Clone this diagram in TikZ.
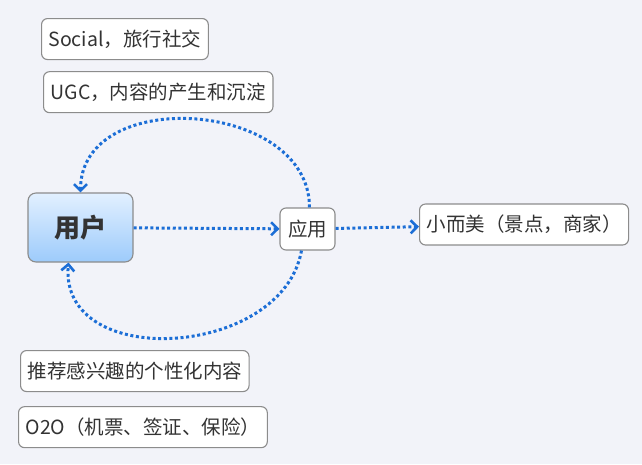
\documentclass[tikz,border=0pt]{standalone}
\usepackage{fontspec}
\setmainfont{Noto Sans CJK SC}
\usetikzlibrary{arrows.meta,positioning}
\definecolor{bg}{HTML}{F2F3F9}
\definecolor{edge}{HTML}{8C8C8C}
\definecolor{ink}{HTML}{333333}
\definecolor{flow}{HTML}{1C6ED6}
\definecolor{usertop}{HTML}{E2F0FF}
\definecolor{userbot}{HTML}{9DCBFB}
\tikzset{
  box/.style={
    draw=edge, fill=white, rounded corners=6pt, line width=1.1pt,
    inner xsep=7pt, inner ysep=0pt, minimum height=41pt,
    text=ink, font=\fontsize{19.5pt}{23pt}\selectfont
  },
  userbox/.style={
    box, top color=usertop, bottom color=userbot, rounded corners=8pt,
    minimum width=105pt, minimum height=69pt,
    font=\fontsize{26pt}{30pt}\selectfont\bfseries
  },
  link/.style={
    draw=flow, line width=3pt, dash pattern=on 3pt off 2.6pt,
    -{Straight Barb[length=6.5pt,width=13pt,line width=2.6pt]}
  }
}

\begin{document}
\begin{tikzpicture}[x=1pt, y=-1pt]
  \fill[bg] (0,0) rectangle (642,464);
  \useasboundingbox (0,0) rectangle (642,464);

  \node[box, anchor=north west] (social) at (41,18) {Social，旅行社交};
  \node[box, below=11pt of social.south west, anchor=north west, xshift=2pt] (ugc) {UGC，内容的产生和沉淀};

  \node[userbox] (user) at (80.5,227.5) {用户};
  \node[box, minimum width=55pt, minimum height=42pt, inner xsep=3pt] (app) at (307.5,229) {应用};
  \node[box, anchor=west] (small) at (419,224.5) {小而美（景点，商家）};

  \node[box, anchor=north west] (recommend) at (20,350) {推荐感兴趣的个性化内容};
  \node[box, below=14pt of recommend.south west, anchor=north west, xshift=-2pt] (otwoo) {O2O（机票、签证、保险）};

  % flows
  \draw[link] (user) -- (app);
  \draw[link] (app) -- (small);
  \draw[link] ([xshift=2pt]app.north) to[out=90, in=90, looseness=1.2] (user.north);
  \draw[link] ([xshift=-6pt]app.south) to[out=-100, in=-95, looseness=1.2] ([xshift=-12pt]user.south);
\end{tikzpicture}
\end{document}
